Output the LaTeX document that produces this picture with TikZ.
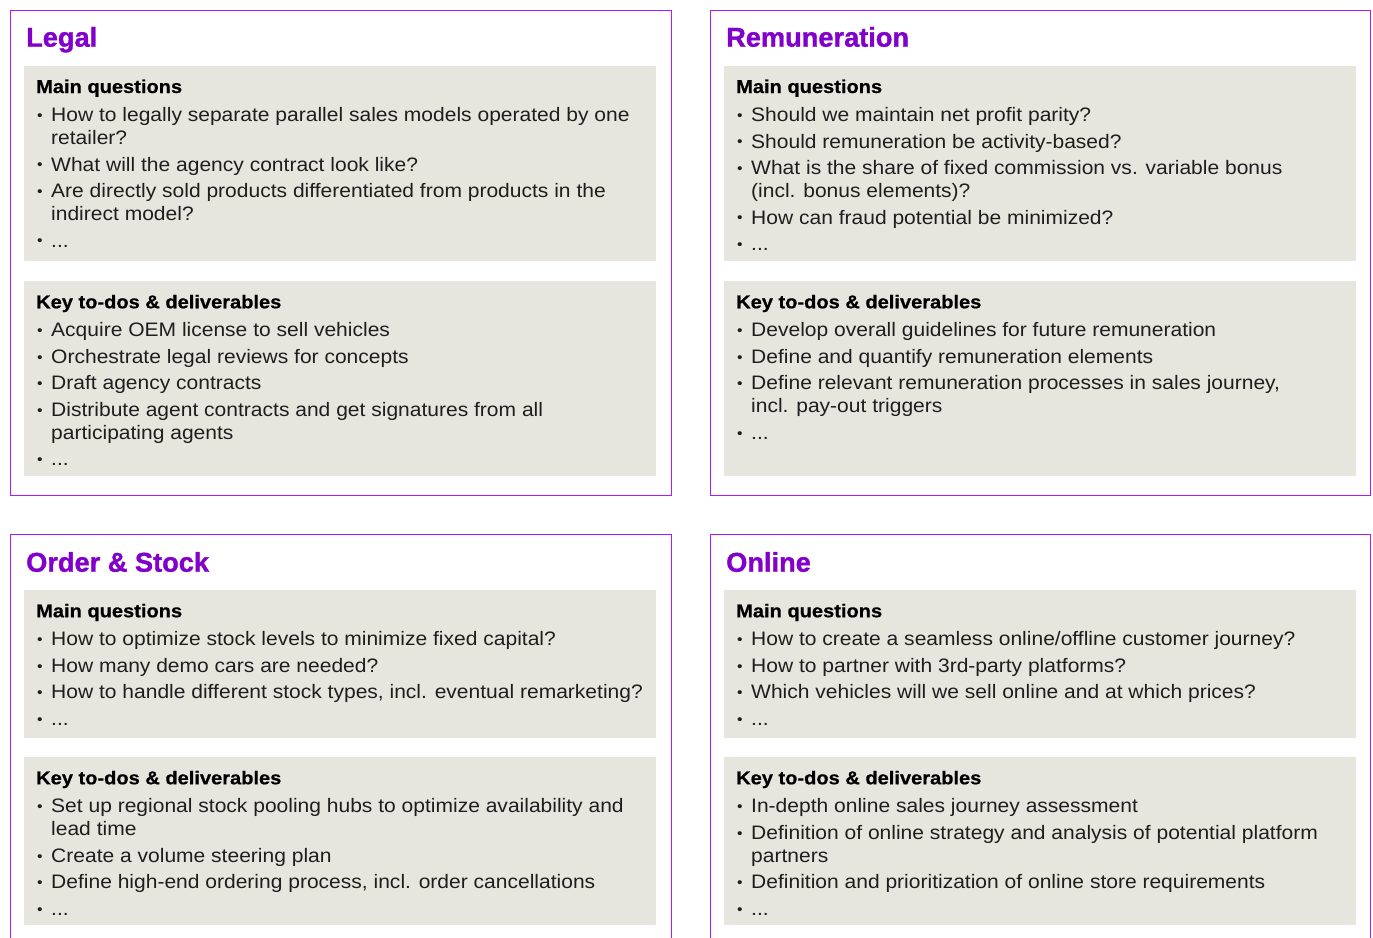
\documentclass[tikz,border=0pt]{standalone}
\usepackage{fontspec}
\setmainfont{Liberation Sans}[FakeStretch=1.078, BoldFeatures={FakeBold=0.6}]
\newfontfamily\titlefont{Liberation Sans}[BoldFeatures={FakeBold=1.2}]
\definecolor{pborder}{HTML}{AE1AFF}
\definecolor{ptitle}{HTML}{8200CC}
\definecolor{boxgrey}{HTML}{E6E5DE}
\definecolor{bodytext}{HTML}{1E1E1E}
\newcommand\hdline[1]{\leavevmode{\fontsize{18.6}{23}\selectfont\bfseries\color{black}#1}\par\vspace{2pt}}
\newcommand\itm[1]{\par\hangindent=15pt\hangafter=1\noindent\hbox to 15pt{\hskip1pt\raisebox{1.2pt}{\scalebox{0.75}{\textbullet}}\hfil}#1}
\newenvironment{blist}{\begin{minipage}[t]{630pt}\raggedright\fontsize{19.5}{23}\selectfont\parskip=3.5pt}{\end{minipage}}
\begin{document}
\begin{tikzpicture}[x=1pt,y=-1pt,
  panel/.style={draw=pborder, line width=1.3pt, anchor=north west, inner sep=0},
  greybox/.style={fill=boxgrey, anchor=north west, inner sep=0, minimum width=632},
  ptitle/.style={anchor=base west, inner sep=0, text=ptitle, font=\titlefont\fontsize{27.2}{32}\selectfont\bfseries},
  content/.style={anchor=base west, inner sep=0, text=bodytext}]
\useasboundingbox (0,0) rectangle (1373,937);
\clip (0,0) rectangle (1373,937);
\fill[white] (0,0) rectangle (1373,937);
% panels
\node[panel, minimum width=661.5, minimum height=485] (legal) at (9.5,9.5) {};
\node[panel, minimum width=660.5, minimum height=485] (remun) at (709.5,9.5) {};
\node[panel, minimum width=661.5, minimum height=430] (order) at (9.5,534) {};
\node[panel, minimum width=660.5, minimum height=430] (online) at (709.5,534) {};
% grey boxes
\node[greybox, minimum height=195] (legalqbox) at (24,66) {};
\node[greybox, minimum height=195] (legalkbox) at (24,281) {};
\node[greybox, minimum height=195] (remunqbox) at (724,66) {};
\node[greybox, minimum height=195] (remunkbox) at (724,281) {};
\node[greybox, minimum height=148] (orderqbox) at (24,590) {};
\node[greybox, minimum height=168] (orderkbox) at (24,757) {};
\node[greybox, minimum height=148] (onlineqbox) at (724,590) {};
\node[greybox, minimum height=168] (onlinekbox) at (724,757) {};
% titles
\node[ptitle] (legalt) at (26,46.7) {Legal};
\node[ptitle] (remunt) at (726,46.7) {Remuneration};
\node[ptitle] (ordert) at (26,571.7) {Order \& Stock};
\node[ptitle] (onlinet) at (726,571.7) {Online};
% Legal
\node[content] (legalq) at (36,93) {\begin{blist}
\hdline{Main questions}
\itm{How to legally separate parallel sales models operated by one\newline retailer?}
\itm{What will the agency contract look like?}
\itm{Are directly sold products differentiated from products in the\newline indirect model?}
\itm{...}
\end{blist}};
\node[content] (legalk) at (36,308.3) {\begin{blist}
\hdline{Key to-dos \& deliverables}
\itm{Acquire OEM license to sell vehicles}
\itm{Orchestrate legal reviews for concepts}
\itm{Draft agency contracts}
\itm{Distribute agent contracts and get signatures from all\newline participating agents}
\itm{...}
\end{blist}};
% Remuneration
\node[content] (remunq) at (736,93) {\begin{blist}
\hdline{Main questions}
\itm{Should we maintain net profit parity?}
\itm{Should remuneration be activity-based?}
\itm{What is the share of fixed commission vs. variable bonus\newline (incl. bonus elements)?}
\itm{How can fraud potential be minimized?}
\itm{...}
\end{blist}};
\node[content] (remunk) at (736,308.3) {\begin{blist}
\hdline{Key to-dos \& deliverables}
\itm{Develop overall guidelines for future remuneration}
\itm{Define and quantify remuneration elements}
\itm{Define relevant remuneration processes in sales journey,\newline incl. pay-out triggers}
\itm{...}
\end{blist}};
% Order & Stock
\node[content] (orderq) at (36,617.3) {\begin{blist}
\hdline{Main questions}
\itm{How to optimize stock levels to minimize fixed capital?}
\itm{How many demo cars are needed?}
\itm{How to handle different stock types, incl. eventual remarketing?}
\itm{...}
\end{blist}};
\node[content] (orderk) at (36,784.3) {\begin{blist}
\hdline{Key to-dos \& deliverables}
\itm{Set up regional stock pooling hubs to optimize availability and\newline lead time}
\itm{Create a volume steering plan}
\itm{Define high-end ordering process, incl. order cancellations}
\itm{...}
\end{blist}};
% Online
\node[content] (onlineq) at (736,617.3) {\begin{blist}
\hdline{Main questions}
\itm{How to create a seamless online/offline customer journey?}
\itm{How to partner with 3rd-party platforms?}
\itm{Which vehicles will we sell online and at which prices?}
\itm{...}
\end{blist}};
\node[content] (onlinek) at (736,784.3) {\begin{blist}
\hdline{Key to-dos \& deliverables}
\itm{In-depth online sales journey assessment}
\itm{Definition of online strategy and analysis of potential platform\newline partners}
\itm{Definition and prioritization of online store requirements}
\itm{...}
\end{blist}};
\end{tikzpicture}
\end{document}
